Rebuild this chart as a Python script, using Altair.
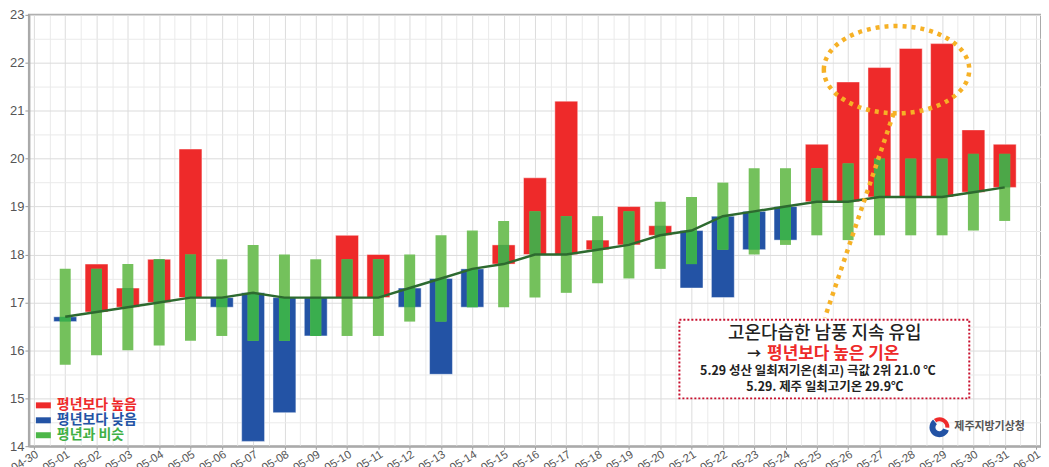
import json
import altair as alt
import pandas as pd

# ---- data ----
dates = ["05-01", "05-02", "05-03", "05-04", "05-05", "05-06", "05-07", "05-08", "05-09", "05-10",
         "05-11", "05-12", "05-13", "05-14", "05-15", "05-16", "05-17", "05-18", "05-19", "05-20",
         "05-21", "05-22", "05-23", "05-24", "05-25", "05-26", "05-27", "05-28", "05-29", "05-30", "05-31"]
normal = [16.7, 16.8, 16.9, 17.0, 17.1, 17.1, 17.2, 17.1, 17.1, 17.1,
          17.1, 17.3, 17.5, 17.7, 17.8, 18.0, 18.0, 18.1, 18.2, 18.4,
          18.5, 18.8, 18.9, 19.0, 19.1, 19.1, 19.2, 19.2, 19.2, 19.3, 19.4]
actual = [16.6, 17.8, 17.3, 17.9, 20.2, 16.9, 14.1, 14.7, 16.3, 18.4,
          18.0, 16.9, 15.5, 16.9, 18.2, 19.6, 21.2, 18.3, 19.0, 18.6,
          17.3, 17.1, 18.1, 18.3, 20.3, 21.6, 21.9, 22.3, 22.4, 20.6, 20.3]
range_low = [15.7, 15.9, 16.0, 16.1, 16.2, 16.3, 16.2, 16.2, 16.3, 16.3,
             16.3, 16.6, 16.6, 16.9, 16.9, 17.1, 17.2, 17.4, 17.5, 17.7,
             17.8, 18.1, 18.0, 18.2, 18.4, 18.3, 18.4, 18.4, 18.4, 18.5, 18.7]
range_high = [17.7, 17.7, 17.8, 17.9, 18.0, 17.9, 18.2, 18.0, 17.9, 17.9,
              17.9, 18.0, 18.4, 18.5, 18.7, 18.9, 18.8, 18.8, 18.9, 19.1,
              19.2, 19.5, 19.8, 19.8, 19.8, 19.9, 20.0, 20.0, 20.0, 20.1, 20.1]
tick_labels = ["04-30"] + dates + ["06-01"]

legend_labels = ["평년보다 높음", "평년보다 낮음", "평년과 비슷"]
note_line1 = "고온다습한 남풍 지속 유입"
note_arrow = "→"
note_line2 = "평년보다 높은 기온"
note_line3 = "5.29 성산 일최저기온(최고) 극값 2위 21.0 ℃"
note_line4 = "5.29. 제주 일최고기온 29.9℃"
agency = "제주지방기상청"

RED = "#ee2a2a"
BLUE = "#2353a5"
LGREEN = "#74c15c"
DGREEN_R = "#4ca748"
DGREEN_B = "#3aae4e"
LINE = "#2d6a2f"
ORANGE = "#f6b126"
KFONT = "Noto Sans CJK KR"

rows = []
for i, d in enumerate(dates):
    n, a = normal[i], actual[i]
    lo, hi = range_low[i], range_high[i]
    b_lo, b_hi = min(n, a), max(n, a)
    o_lo, o_hi = max(lo, b_lo), min(hi, b_hi)
    rows.append(dict(date=d, day=i + 1, normal=n, actual=a, low=lo, high=hi,
                     status="high" if a > n else "low",
                     ov_lo=o_lo, ov_hi=max(o_lo, o_hi)))
df = pd.DataFrame(rows)

label_expr = ("datum.value % 1 === 0 ? " + json.dumps(tick_labels) + "[datum.value] : ''")
major = "datum.value % 1 === 0"

x_axis = alt.Axis(values=[i * 0.5 for i in range(65)], labelExpr=label_expr,
                  labelAngle=-32, labelAlign="right", labelBaseline="top",
                  labelOverlap=False, labelBound=False, labelPadding=-1, labelFontSize=11.5,
                  tickSize=3, tickColor="#999",
                  tickOpacity={"condition": {"test": major, "value": 1}, "value": 0},
                  gridColor={"condition": {"test": major, "value": "#dcdcdc"}, "value": "#eaeaea"},
                  title=None)
y_axis = alt.Axis(values=[14 + 0.5 * i for i in range(19)],
                  labelExpr="datum.value % 1 === 0 ? format(datum.value, 'd') : ''",
                  labelFontSize=13, tickSize=4, tickColor="#999", labelPadding=1,
                  tickOpacity={"condition": {"test": major, "value": 1}, "value": 0},
                  gridColor={"condition": {"test": major, "value": "#dcdcdc"}, "value": "#eaeaea"},
                  title=None)
xs = alt.Scale(domain=[0, 32], nice=False, zero=False)
ys = alt.Scale(domain=[14, 23], nice=False, zero=False)


def X():
    return alt.X("day:Q", scale=xs, axis=x_axis)


def Y(f):
    return alt.Y(f + ":Q", scale=ys, axis=y_axis)


base = alt.Chart(df)

dev_bars = base.mark_bar(width=23, stroke="white", strokeOpacity=0.45, strokeWidth=1).encode(
    x=X(), y=Y("normal"), y2="actual:Q",
    color=alt.condition("datum.status === 'high'", alt.value(RED), alt.value(BLUE)))

range_bars = base.mark_bar(width=11, color=LGREEN).encode(
    x=X(), y=Y("low"), y2="high:Q")

overlap = base.transform_filter("datum.ov_hi > datum.ov_lo").mark_bar(width=11).encode(
    x=X(), y=Y("ov_lo"), y2="ov_hi:Q",
    color=alt.condition("datum.status === 'high'", alt.value(DGREEN_R), alt.value(DGREEN_B)))

line = base.mark_line(color=LINE, strokeWidth=2.5).encode(x=X(), y=Y("normal"))

one = alt.Chart(pd.DataFrame({"k": [0]}))

layers = [dev_bars, range_bars, overlap, line]

# legend (custom)
leg_colors = [RED, BLUE, "#4cb748"]
leg_text_colors = [RED, BLUE, "#3fb045"]
for i, (lab, c, tc) in enumerate(zip(legend_labels, leg_colors, leg_text_colors)):
    yc = 392 + 15 * i
    layers.append(one.mark_rect(color=c).encode(
        x=alt.value(7), x2=alt.value(22), y=alt.value(yc - 3), y2=alt.value(yc + 3)))
    layers.append(one.mark_text(text=lab, font=KFONT, fontSize=14, fontWeight="bold",
                                color=tc, align="left", baseline="middle").encode(
        x=alt.value(28), y=alt.value(yc)))

# annotation box
layers.append(one.mark_rect(fill="white", stroke="#c8102e", strokeWidth=2,
                            strokeDash=[2, 2]).encode(
    x=alt.value(653), x2=alt.value(944), y=alt.value(306), y2=alt.value(385)))
layers.append(one.mark_text(text=note_line1, font=KFONT, fontSize=18, fontWeight=500,
                            color="#222", align="center", baseline="middle").encode(
    x=alt.value(799), y=alt.value(320)))
layers.append(one.mark_text(text=note_arrow, font=KFONT, fontSize=14, fontWeight="bold",
                            color="#222", align="center", baseline="middle").encode(
    x=alt.value(728), y=alt.value(340)))
layers.append(one.mark_text(text=note_line2, font=KFONT, fontSize=17, fontWeight="bold",
                            color=RED, align="left", baseline="middle").encode(
    x=alt.value(741), y=alt.value(340)))
layers.append(one.mark_text(text=note_line3, font=KFONT, fontSize=12.5, fontWeight="bold",
                            color="#222", align="center", baseline="middle").encode(
    x=alt.value(792), y=alt.value(358)))
layers.append(one.mark_text(text=note_line4, font=KFONT, fontSize=12.5, fontWeight="bold",
                            color="#222", align="center", baseline="middle").encode(
    x=alt.value(799), y=alt.value(374)))

# orange dotted ellipse + connector
ellipse = "M -1 0 A 1 0.6 0 1 1 1 0 A 1 0.6 0 1 1 -1 0 Z"
layers.append(one.mark_point(shape=ellipse, size=146 * 146, filled=False, stroke=ORANGE,
                             strokeWidth=4.5, strokeDash=[4, 5], opacity=1).encode(
    x=alt.value(871), y=alt.value(55)))
layers.append(one.mark_rule(color=ORANGE, strokeWidth=4.5, strokeDash=[4, 5]).encode(
    x=alt.value(868), y=alt.value(99), x2=alt.value(799), y2=alt.value(304)))

# agency logo
layers.append(one.mark_arc(color=BLUE, innerRadius=4, outerRadius=10).encode(
    x=alt.value(914), y=alt.value(414), theta=alt.value(1.9), theta2=alt.value(5.6)))
layers.append(one.mark_arc(color=RED, innerRadius=6, outerRadius=10).encode(
    x=alt.value(914), y=alt.value(414), theta=alt.value(5.7), theta2=alt.value(7.9)))
layers.append(one.mark_text(text=agency, font=KFONT, fontSize=11, fontWeight="bold",
                            color="#555", align="left", baseline="middle").encode(
    x=alt.value(929), y=alt.value(414)))

chart = alt.layer(*layers).properties(
    width=1016, height=433,
    autosize=alt.AutoSizeParams(type="none"),
    padding={"left": 21, "top": 6, "right": 0, "bottom": 20},
).configure_view(stroke="#aaaaaa", strokeWidth=2).configure_axis(
    domainColor="#aaaaaa", domainWidth=2, labelColor="#555", labelFont="Liberation Sans"
)

chart.save("out.html", embed_options={"renderer": "svg", "actions": False})
